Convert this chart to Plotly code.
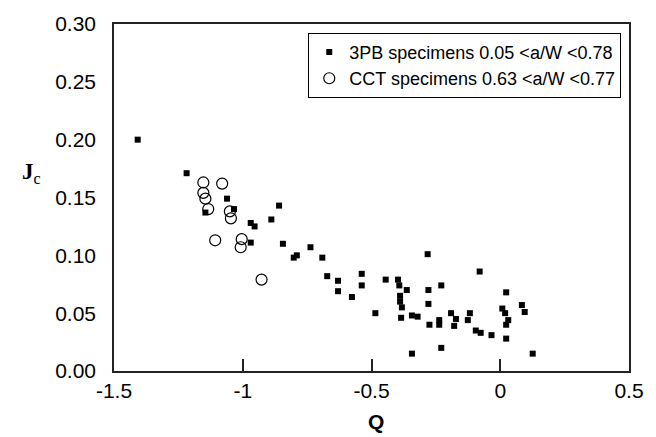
import plotly.graph_objects as go

# 3PB specimens (filled squares)
q_3pb = [-1.408, -1.218, -1.145, -1.061, -1.034, -0.969, -0.954, -0.969, -0.859, -0.889,
         -0.844, -0.802, -0.790, -0.737, -0.691, -0.672, -0.630, -0.630, -0.576, -0.538,
         -0.538, -0.445, -0.397, -0.389, -0.363, -0.382, -0.385, -0.343, -0.321, -0.485,
         -0.282, -0.279, -0.229, -0.279, -0.275, -0.237, -0.237, -0.191, -0.172, -0.179,
         -0.118, -0.126, -0.080, -0.095, -0.076, -0.034, 0.023, -0.343, -0.229, 0.023,
         0.008, 0.019, 0.031, 0.023, 0.084, 0.095, 0.126, -0.389, -0.392]
jc_3pb = [0.200, 0.171, 0.137, 0.149, 0.140, 0.128, 0.125, 0.111, 0.143, 0.131,
          0.110, 0.098, 0.100, 0.107, 0.098, 0.082, 0.078, 0.069, 0.064, 0.084,
          0.074, 0.079, 0.079, 0.065, 0.070, 0.055, 0.046, 0.048, 0.047, 0.050,
          0.101, 0.070, 0.074, 0.058, 0.040, 0.044, 0.040, 0.050, 0.045, 0.039,
          0.050, 0.044, 0.086, 0.035, 0.033, 0.031, 0.028, 0.015, 0.020, 0.068,
          0.054, 0.050, 0.044, 0.040, 0.057, 0.051, 0.015, 0.060, 0.074]

# CCT specimens (open circles)
q_cct = [-1.153, -1.153, -1.145, -1.134, -1.080, -1.050, -1.046, -1.107, -1.004, -1.008, -0.927]
jc_cct = [0.163, 0.154, 0.149, 0.140, 0.162, 0.138, 0.132, 0.113, 0.114, 0.107, 0.079]

x_ticks = [-1.5, -1, -0.5, 0, 0.5]
x_tick_text = ["-1.5", "-1", "-0.5", "0", "0.5"]
y_ticks = [0.00, 0.05, 0.10, 0.15, 0.20, 0.25, 0.30]
y_tick_text = ["0.00", "0.05", "0.10", "0.15", "0.20", "0.25", "0.30"]

FONT = "Liberation Sans, Arial, sans-serif"

fig = go.Figure()
fig.add_trace(go.Scatter(
    x=q_3pb, y=jc_3pb, mode="markers",
    name="3PB specimens 0.05 <a/W <0.78",
    marker=dict(symbol="square", size=6, color="black"),
))
fig.add_trace(go.Scatter(
    x=q_cct, y=jc_cct, mode="markers",
    name="CCT specimens 0.63 <a/W <0.77",
    marker=dict(symbol="circle-open", size=11, color="black", line=dict(width=1.2)),
))

fig.update_layout(
    width=656, height=437,
    margin=dict(l=114, r=18, t=22, b=66),
    paper_bgcolor="white", plot_bgcolor="white",
    font=dict(family=FONT, size=21, color="black"),
    showlegend=True,
    legend=dict(
        x=0.985, y=0.975, xanchor="right", yanchor="top",
        bgcolor="white", bordercolor="black", borderwidth=1,
        font=dict(family=FONT, size=18, color="black"),
        itemwidth=30, tracegroupgap=0,
    ),
    xaxis=dict(
        range=[-1.5, 0.5], tickmode="array", tickvals=x_ticks, ticktext=x_tick_text,
        showgrid=False, zeroline=False,
        showline=True, linecolor="#222", linewidth=1.5, mirror=True,
        ticks="inside", ticklen=12, tickwidth=1.5, tickcolor="#222",
        tickfont=dict(family=FONT, size=21, color="black"),
    ),
    yaxis=dict(
        range=[0, 0.30], tickmode="array", tickvals=y_ticks, ticktext=y_tick_text,
        showgrid=False, zeroline=False,
        showline=True, linecolor="#222", linewidth=1.5, mirror=True,
        ticks="", ticklabelstandoff=12,
        tickfont=dict(family=FONT, size=21, color="black"),
    ),
)


def px_to_paper(px, py):
    return (px - 114) / 524, (371 - py) / 349


qx, qy = px_to_paper(381, 422)
fig.add_annotation(
    x=qx, y=qy, xref="paper", yref="paper", text="<b>Q</b>", showarrow=False,
    xanchor="center", yanchor="middle",
    font=dict(family=FONT, size=21, color="black"),
)
jx, jy = px_to_paper(30, 172)
fig.add_annotation(
    x=jx, y=jy, xref="paper", yref="paper", text="<b>J</b><sub>c</sub>", showarrow=False,
    xanchor="center", yanchor="middle",
    font=dict(family="Liberation Serif, Times New Roman, serif", size=23, color="black"),
)

fig.write_html("out.html")
